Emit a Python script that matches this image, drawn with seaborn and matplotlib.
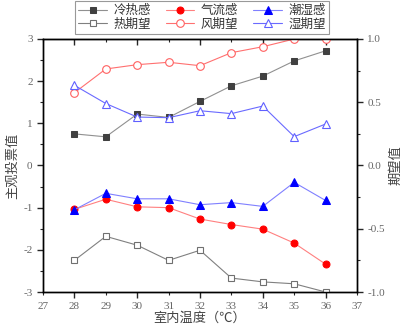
import matplotlib
matplotlib.use("Agg")
import matplotlib.pyplot as plt
import seaborn as sns
import numpy as np
from matplotlib.ticker import MultipleLocator, FormatStrFormatter

temps = [28, 29, 30, 31, 32, 33, 34, 35, 36]
# left axis: votes
thermal_vote = [0.75, 0.68, 1.22, 1.14, 1.52, 1.89, 2.12, 2.48, 2.72]
airflow_vote = [-1.04, -0.80, -0.98, -1.00, -1.27, -1.40, -1.51, -1.84, -2.34]
humid_vote = [-1.05, -0.66, -0.79, -0.79, -0.93, -0.88, -0.97, -0.40, -0.83]
# right axis: expectations
thermal_exp = [-0.75, -0.56, -0.63, -0.75, -0.67, -0.89, -0.92, -0.935, -1.0]
wind_exp = [0.575, 0.763, 0.797, 0.816, 0.789, 0.892, 0.939, 1.0, 1.0]
humid_exp = [0.634, 0.49, 0.383, 0.378, 0.433, 0.41, 0.47, 0.228, 0.328]

labels = ["冷热感", "气流感", "潮湿感", "热期望", "风期望", "湿期望"]

sns.set_style("ticks")
plt.rcParams['font.family'] = ['Noto Sans CJK SC', 'DejaVu Sans']
plt.rcParams['axes.unicode_minus'] = False

fig = plt.figure(figsize=(4.06, 3.32), dpi=100)
ax = fig.add_axes([43/406, 1-292/332, (357-43)/406, (292-39)/332])
ax2 = ax.twinx()

lw = 0.8
ms = 5
sns.lineplot(x=temps, y=thermal_vote, ax=ax, color="#909090", lw=lw, marker="s", ms=ms,
             markerfacecolor="#404040", markeredgecolor="#404040")
sns.lineplot(x=temps, y=airflow_vote, ax=ax, color="#ff8080", lw=lw, marker="o", ms=ms,
             markerfacecolor="#ff0000", markeredgecolor="#ff0000")
sns.lineplot(x=temps, y=humid_vote, ax=ax, color="#8080ff", lw=lw, marker="^", ms=ms+1,
             markerfacecolor="#0000ff", markeredgecolor="#0000ff")
sns.lineplot(x=temps, y=thermal_exp, ax=ax2, color="#808080", lw=lw, marker="s", ms=ms,
             markerfacecolor="white", markeredgecolor="#707070", markeredgewidth=0.8)
sns.lineplot(x=temps, y=wind_exp, ax=ax2, color="#ff7070", lw=lw, marker="o", ms=ms+0.5,
             markerfacecolor="white", markeredgecolor="#ff6060", markeredgewidth=0.8)
sns.lineplot(x=temps, y=humid_exp, ax=ax2, color="#6a6aff", lw=lw, marker="^", ms=ms+1,
             markerfacecolor="white", markeredgecolor="#6060ff", markeredgewidth=0.8)

for a in (ax, ax2):
    a.set_xlim(27, 37)
    for s in a.spines.values():
        s.set_visible(True)
        s.set_color("black")
        s.set_linewidth(1.0)

ax.set_ylim(-3, 3)
ax2.set_ylim(-1, 1)
ax.xaxis.set_major_locator(MultipleLocator(2))
ax.xaxis.set_minor_locator(MultipleLocator(1))
ax.xaxis.set_major_formatter(FormatStrFormatter("%d"))
ax.xaxis.set_minor_formatter(FormatStrFormatter("%d"))
ax.yaxis.set_major_locator(MultipleLocator(1))
ax.yaxis.set_minor_locator(MultipleLocator(0.5))
ax2.yaxis.set_major_locator(MultipleLocator(0.5))
ax2.yaxis.set_minor_locator(MultipleLocator(0.25))
ax2.yaxis.set_major_formatter(FormatStrFormatter("%.1f"))

tick_color = "#666666"
ax.tick_params(axis="x", which="major", direction="out", length=4, width=1,
               labelsize=8, labelcolor=tick_color, pad=3)
ax.tick_params(axis="x", which="minor", direction="out", length=2.5, width=0.8,
               labelsize=8, labelcolor=tick_color, pad=4.5)
ax.tick_params(axis="y", which="major", direction="out", length=4, width=1,
               labelsize=8, labelcolor=tick_color)
ax.tick_params(axis="y", which="minor", direction="out", length=2.5, width=0.8)
ax2.tick_params(axis="y", which="major", direction="out", length=4, width=1,
                labelsize=8, labelcolor=tick_color)
ax2.tick_params(axis="y", which="minor", direction="out", length=2.5, width=0.8)

# top spine ticks pointing inward
top = ax.secondary_xaxis("top")
top.xaxis.set_major_locator(MultipleLocator(2))
top.xaxis.set_minor_locator(MultipleLocator(1))
top.tick_params(which="major", direction="in", length=4, width=1, labeltop=False)
top.tick_params(which="minor", direction="in", length=2.5, width=0.8, labeltop=False)
top.spines["top"].set_color("black")

serif = ["Liberation Serif", "DejaVu Serif"]
for t in ax.get_xticklabels(which="both") + ax.get_yticklabels() + ax2.get_yticklabels():
    t.set_family(serif)

ax.set_xlabel("室内温度（℃）", fontsize=9.5, color="#444444", labelpad=1)
ax.set_ylabel("主观投票值", fontsize=9.5, color="#444444", labelpad=3)
ax2.set_ylabel("期望值", fontsize=9.5, color="#444444", rotation=90, labelpad=3)

lines = ax.get_lines() + ax2.get_lines()
order = [0, 3, 1, 4, 2, 5]
handles = [lines[i] for i in order]
leg_labels = [labels[i] for i in order]
leg = fig.legend(handles, leg_labels, ncol=3, loc="upper center",
                 bbox_to_anchor=(202/406, 1.0 - 1/332), fontsize=9, frameon=True,
                 fancybox=False, edgecolor="#808080", handlelength=2.3, columnspacing=1.2,
                 handletextpad=0.5, borderpad=0.25, labelspacing=0.05, borderaxespad=0)
leg.get_frame().set_linewidth(0.8)
for t in leg.get_texts():
    t.set_color("#333333")

fig.savefig("out.png", dpi=100)
